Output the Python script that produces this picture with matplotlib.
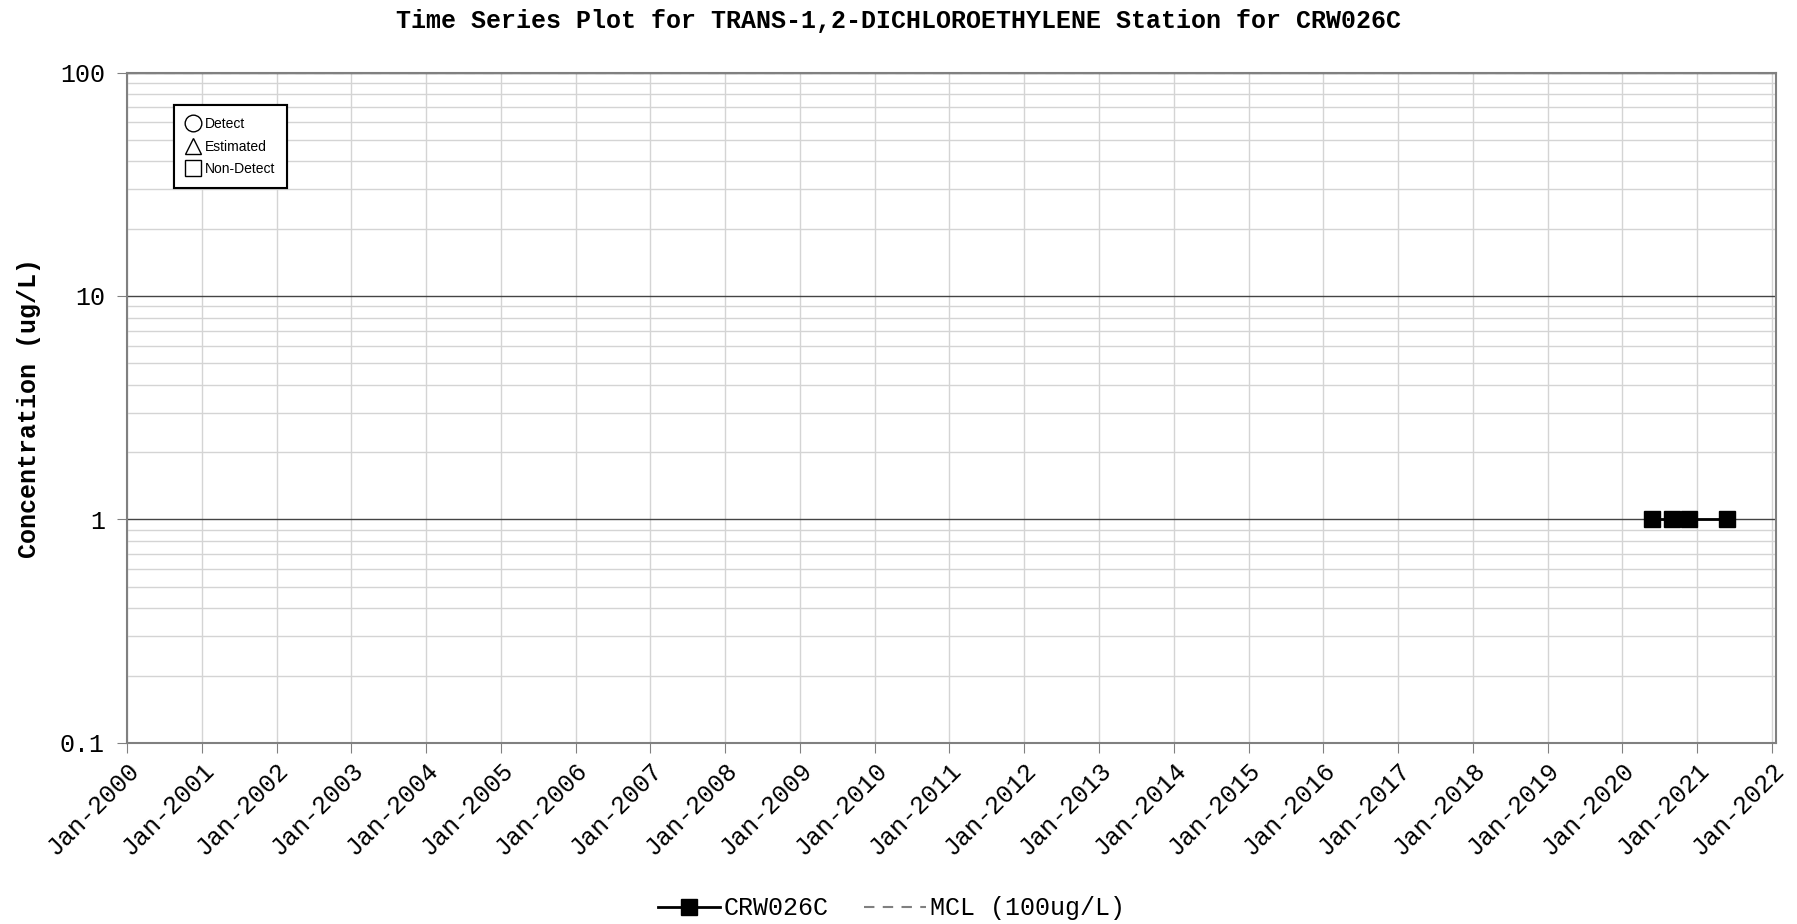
import numpy as np
import pandas as pd
import matplotlib
matplotlib.use("Agg")
import matplotlib.pyplot as plt
from matplotlib.lines import Line2D

# sample data (non-detects at the reporting limit)
dates = pd.to_datetime(["2020-05-27", "2020-09-01", "2020-11-20", "2021-05-27"])
conc = [1, 1, 1, 1]
station = "CRW026C"
mcl = 100
x_start = pd.Timestamp("2000-01-01")
x_end = pd.Timestamp("2022-01-20")

mono = "Liberation Mono"
plt.rcParams["font.family"] = mono

fig = plt.figure(figsize=(17.97, 9.24), dpi=100)
ax = fig.add_axes([0.0707, 0.196, 0.9175, 0.7255])

ax.plot(dates, conc, color="black", lw=2, marker="s", ms=11.5, mfc="black", mec="black", zorder=5)
ax.plot([x_start, x_end], [mcl, mcl], color="gray", ls="--", dashes=(5, 4), lw=1.5, zorder=4)

ax.set_yscale("log")
ax.set_ylim(0.1, 100)
ax.set_xlim(x_start, x_end)

ax.set_yticks([0.1, 1, 10, 100])
ax.set_yticklabels(["0.1", "1", "10", "100"])
ax.yaxis.set_minor_locator(matplotlib.ticker.LogLocator(base=10, subs=np.arange(2, 10)))
ax.yaxis.set_minor_formatter(matplotlib.ticker.NullFormatter())

years = pd.date_range("2000-01-01", "2022-01-01", freq="YS")
ax.set_xticks(years)
ax.set_xticklabels([d.strftime("Jan-%Y") for d in years], rotation=45, ha="right",
                   rotation_mode="anchor")

ax.grid(True, axis="x", color="#d4d4d4", lw=1)
ax.grid(True, axis="y", which="minor", color="#d4d4d4", lw=1)
ax.grid(True, axis="y", which="major", color="#444444", lw=1)
ax.set_axisbelow(True)

ax.tick_params(axis="both", which="major", labelsize=18, length=7, color="gray")
ax.tick_params(axis="y", which="major", pad=9)
ax.tick_params(axis="y", which="minor", length=0)
ax.tick_params(axis="x", pad=4)
for s in ax.spines.values():
    s.set_color("gray")
    s.set_linewidth(1.5)

ax.set_ylabel("Concentration (ug/L)", fontsize=18, fontweight="bold")
ax.yaxis.set_label_coords(-0.052, 0.5)
fig.suptitle("Time Series Plot for TRANS-1,2-DICHLOROETHYLENE Station for CRW026C",
             fontsize=18, fontweight="bold", y=0.99)

# symbol key box
key = [Line2D([], [], ls="none", marker="o", mfc="white", mec="black", ms=12),
       Line2D([], [], ls="none", marker="^", mfc="white", mec="black", ms=12),
       Line2D([], [], ls="none", marker="s", mfc="white", mec="black", ms=12)]
leg1 = ax.legend(key, ["Detect", "Estimated", "Non-Detect"], loc="upper left",
                 bbox_to_anchor=(0.0285, 0.952), borderaxespad=0,
                 prop={"family": "Liberation Sans", "size": 10},
                 fancybox=False, edgecolor="black", framealpha=1, handlelength=1.0,
                 handletextpad=0.3, labelspacing=0.6, borderpad=0.9)
leg1.get_frame().set_linewidth(1.5)
ax.add_artist(leg1)

series = [Line2D([], [], color="black", lw=2, marker="s", ms=11.5),
          Line2D([], [], color="gray", lw=1.5, ls="--", dashes=(5, 4))]
fig.legend(series, [station, "MCL (100ug/L)"], loc="center",
           bbox_to_anchor=(0.496, 0.017), ncol=2, frameon=False, fontsize=18,
           handlelength=2.5, columnspacing=1.4, handletextpad=0.15)

fig.savefig("out.png", dpi=100)
